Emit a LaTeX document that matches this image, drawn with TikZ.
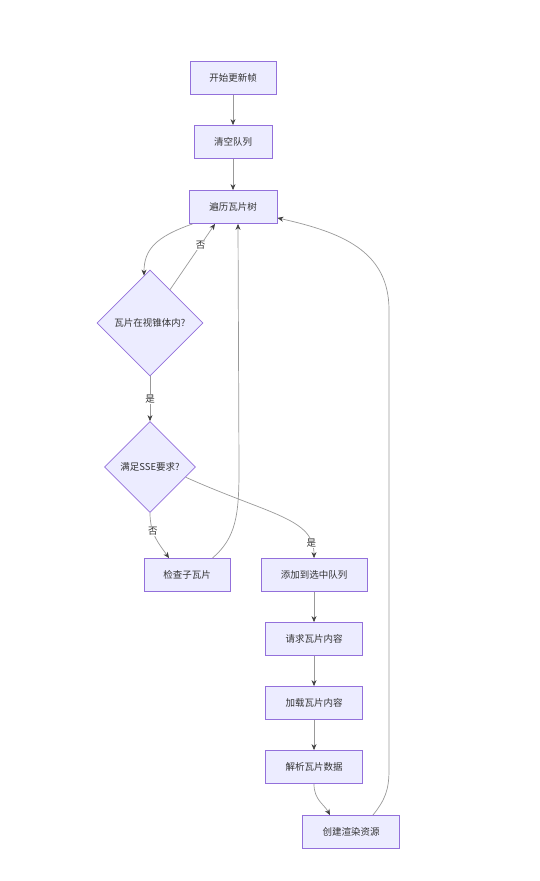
\documentclass[tikz,border=0pt]{standalone}
\usepackage{fontspec}
\newfontfamily\cjk{Noto Sans CJK SC}
\usepackage{tikz}
\usetikzlibrary{shapes.geometric,arrows.meta,calc}
\definecolor{mmfill}{HTML}{ECECFF}
\definecolor{mmborder}{HTML}{9370DB}
\definecolor{mmtext}{HTML}{333333}

\begin{document}
\begin{tikzpicture}
  [
    x=1pt, y=-1pt,
    every node/.style =
      {font=\cjk\fontsize{9.5}{11}\selectfont, text=mmtext},
    block/.style =
      {draw=mmborder, fill=mmfill, rectangle, align=center, line width=0.8pt, minimum height=33pt},
    decision/.style =
      {draw=mmborder, fill=mmfill, diamond, align=center, line width=0.8pt, inner sep=0pt},
    flow/.style =
      {-{Stealth[length=6pt, width=5pt, color=black!75]}, draw=black!40, line width=0.7pt},
    elabel/.style =
      {fill=white, inner sep=1pt}
  ]

\useasboundingbox (0,0) rectangle (539,881);

\node[block, minimum width=86pt] (start) at (233,78) {开始更新帧};
\node[block, minimum width=78pt] (clear) at (233,142) {清空队列};
\node[block, minimum width=88pt] (walk) at (233,207) {遍历瓦片树};

\node[decision, minimum width=106pt, minimum height=106pt] (frustum) at (150,323) {瓦片在视锥体内?};
\node[decision, minimum width=91pt, minimum height=91pt] (sse) at (150,467) {满足SSE要求?};

\node[block, minimum width=86pt] (child) at (187,575) {检查子瓦片};
\node[block, minimum width=106pt] (select) at (314,575) {添加到选中队列};
\node[block, minimum width=97pt] (request) at (314,639) {请求瓦片内容};
\node[block, minimum width=97pt] (load) at (314,703) {加载瓦片内容};
\node[block, minimum width=97pt] (parse) at (314,767) {解析瓦片数据};
\node[block, minimum width=97pt] (render) at (351,832) {创建渲染资源};

\draw[flow] (start) -- (clear);
\draw[flow] (clear) -- (walk);

\draw[flow] ($(walk.south west)+(4,0)$) .. controls (155,237) and (144,250) .. ($(frustum.north)+(-6,6)$);
\draw[flow] (frustum.59) -- node[elabel, pos=0.68] {否} ($(walk.south)+(-18,0)$);
\draw[flow] (frustum.south) -- node[elabel] {是} (sse.north);

\draw[flow] (sse.south) .. controls (150,535) and (160,545) .. node[elabel, pos=0.33] {否} ($(child.north)+(-18,0)$);
\draw[flow] (sse.-16) .. controls (270,515) and (314,518) .. node[elabel, pos=0.86] {是} (select.north);
\draw[flow] ($(child.north east)+(-18,0)$) .. controls (236,538) and (239,515) .. (239,470) -- ($(walk.south)+(5,0)$);

\draw[flow] (select) -- (request);
\draw[flow] (request) -- (load);
\draw[flow] (load) -- (parse);
\draw[flow] (parse.south) .. controls (314,800) and (324,804) .. ($(render.north)+(-21,0)$);

\draw[flow] ($(render.north east)+(-27,0)$) .. controls (385,800) and (389,790) .. (389,770) -- (389,310) .. controls (389,250) and (340,232) .. ($(walk.south east)+(0,-6)$);

\end{tikzpicture}
\end{document}
